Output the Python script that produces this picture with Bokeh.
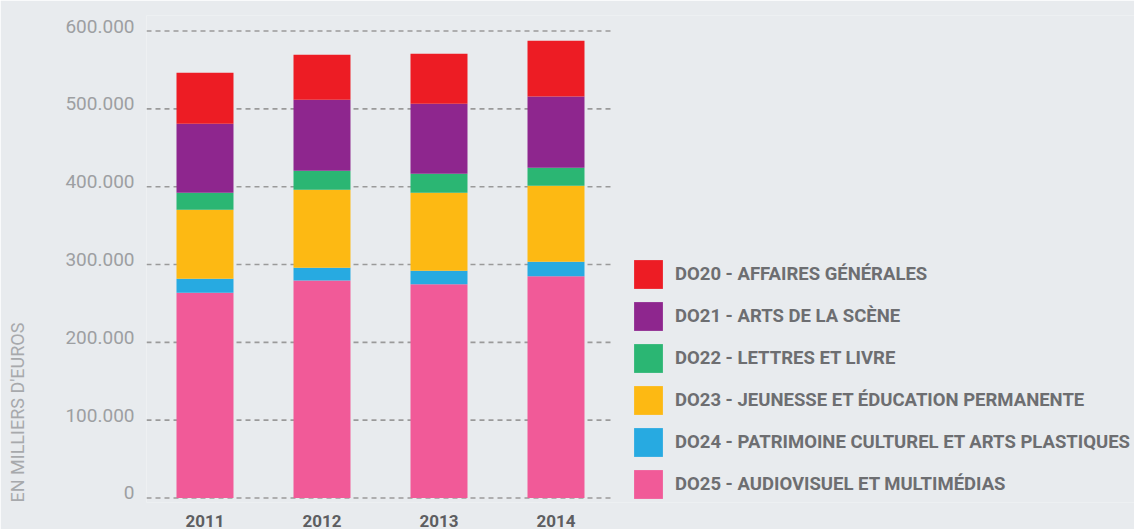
from bokeh.plotting import figure
from bokeh.models import (ColumnDataSource, Range1d, FixedTicker,
                          Legend, LegendItem, LinearAxis, Title)
from bokeh.embed import file_html
from bokeh.resources import INLINE

# ---- data (en milliers d'euros) ----
years = ["2011", "2012", "2013", "2014"]
do25 = [263800, 279600, 274500, 284800]   # Audiovisuel et multimédias
do24 = [18000, 16400, 17600, 18900]       # Patrimoine culturel et arts plastiques
do23 = [88600, 100100, 100200, 97600]     # Jeunesse et éducation permanente
do22 = [21900, 24500, 24400, 23100]       # Lettres et livre
do21 = [88700, 91200, 90000, 91600]       # Arts de la scène
do20 = [65500, 57800, 64200, 71600]       # Affaires générales

stack_keys = ["do25", "do24", "do23", "do22", "do21", "do20"]
stack_labels = [
    "DO25 - AUDIOVISUEL ET MULTIMÉDIAS",
    "DO24 - PATRIMOINE CULTUREL ET ARTS PLASTIQUES",
    "DO23 - JEUNESSE ET ÉDUCATION PERMANENTE",
    "DO22 - LETTRES ET LIVRE",
    "DO21 - ARTS DE LA SCÈNE",
    "DO20 - AFFAIRES GÉNÉRALES",
]
stack_colors = ["#f15a98", "#27aae1", "#fdb913", "#2bb673", "#8e268e", "#ed1c24"]

y_ticks = [0, 100000, 200000, 300000, 400000, 500000, 600000]
y_tick_labels = ["0", "100.000", "200.000", "300.000", "400.000", "500.000", "600.000"]
y_title = "EN MILLIERS D'EUROS"

BG = "#e8ebee"
GRID = "#9a9a9a"
TITLE_COLOR = "#a7a9ac"

# category slots: one unit per year, bars centred in each slot
x_pos = [i + 0.5 for i in range(len(years))]
n_slots = len(years)

Y_START, Y_END = -5800, 620000
FRAME_W, FRAME_H = 988, 487
SLOT_PX = 117
lift = 5 * (Y_END - Y_START) / FRAME_H   # tick labels sit ~5px above their line

source = ColumnDataSource(dict(x=x_pos, year=years, do25=do25, do24=do24, do23=do23,
                               do22=do22, do21=do21, do20=do20))

p = figure(width=1134, height=529,
           x_range=Range1d(0, FRAME_W / SLOT_PX), y_range=Range1d(Y_START, Y_END),
           output_backend="svg", toolbar_location=None,
           min_border_left=146, min_border_right=0,
           min_border_top=15, min_border_bottom=27,
           background_fill_color=BG, border_fill_color=BG,
           outline_line_color=None)

# dashed horizontal grid limited to the bar area
p.segment(x0=[0] * len(y_ticks), x1=[n_slots] * len(y_ticks), y0=y_ticks, y1=y_ticks,
          line_color=GRID, line_dash="5 4", line_width=1.6)

renderers = p.vbar_stack(stack_keys, x="x", width=0.487, source=source,
                         fill_color=stack_colors, line_color=None)

p.xgrid.visible = False
p.ygrid.visible = False

# main y axis hidden; a label axis on a slightly shifted range carries the tick labels
p.yaxis.visible = False
p.extra_y_ranges = {"lab": Range1d(Y_START - lift, Y_END - lift)}
yax = LinearAxis(y_range_name="lab", ticker=FixedTicker(ticks=y_ticks),
                 major_label_overrides={t: l for t, l in zip(y_ticks, y_tick_labels)})
yax.axis_line_color = None
yax.major_tick_line_color = None
yax.minor_tick_line_color = None
yax.major_tick_out = 0
yax.major_tick_in = 0
yax.major_label_text_font = "Roboto"
yax.major_label_text_font_size = "19px"
yax.major_label_text_color = "#9d9fa2"
yax.major_label_standoff = 12
# spacer so the title lands at the left edge of the page
yax.axis_label = "\u200b"
yax.axis_label_standoff = 17
yax.axis_label_text_font_size = "10px"
p.add_layout(yax, "left")

# y title, bottom-aligned with the zero line
p.add_layout(Title(text=y_title, align="left", text_font="Roboto",
                   text_font_size="18px", text_font_style="normal",
                   text_color=TITLE_COLOR, standoff=8), "left")

# x axis: years at the slot centres
p.xaxis.ticker = FixedTicker(ticks=x_pos)
p.xaxis.major_label_overrides = {x: y for x, y in zip(x_pos, years)}
p.xaxis.axis_line_color = None
p.xaxis.major_tick_line_color = None
p.xaxis.minor_tick_line_color = None
p.xaxis.major_label_text_font = "Roboto"
p.xaxis.major_label_text_font_size = "17px"
p.xaxis.major_label_text_font_style = "bold"
p.xaxis.major_label_text_color = "#5d5e61"
p.xaxis.major_label_standoff = 6

# legend (top to bottom: DO20 ... DO25)
items = [LegendItem(label=lab, renderers=[r])
         for lab, r in zip(stack_labels[::-1], renderers[::-1])]
legend = Legend(items=items, location=(484, 0), orientation="vertical",
                glyph_width=36, glyph_height=36, spacing=6, label_standoff=9,
                padding=0, margin=0, border_line_color=None,
                background_fill_alpha=0,
                label_text_font="Roboto", label_text_font_style="bold",
                label_text_font_size="18.5px", label_text_color="#6d6e71")
p.add_layout(legend)

open("out.html", "w").write(file_html(p, INLINE))
